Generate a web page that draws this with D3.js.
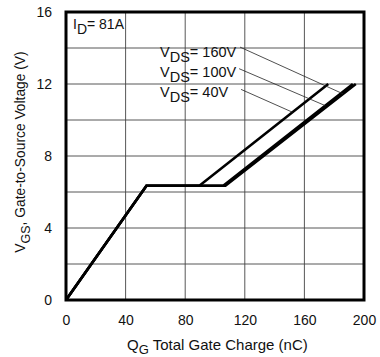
<!DOCTYPE html>
<html>
<head>
<meta charset="utf-8">
<script src="https://cdn.jsdelivr.net/npm/d3@7"></script>
<style>
  html, body { margin: 0; padding: 0; background: #fff; }
  svg { display: block; font-family: "Liberation Sans", Arial, Helvetica, sans-serif; }
</style>
</head>
<body>
<svg id="chart" width="380" height="357"></svg>
<script>
// Gate charge curves (Q_G in nC, V_GS in V) for three drain-source voltages
const seriesNames = ["40V", "100V", "160V"];
const qg40  = [0, 54, 89.5, 176];
const vgs40 = [0, 6.35, 6.35, 12];
const qg100  = [0, 54, 105.5, 192.5];
const vgs100 = [0, 6.35, 6.35, 12];
const qg160  = [0, 54, 107, 194.5];
const vgs160 = [0, 6.35, 6.35, 12];

const xTicks = [0, 40, 80, 120, 160, 200];
const yTicks = [0, 4, 8, 12, 16];
const xGrid = [0, 40, 80, 120, 160, 200];
const yGrid = [0, 2, 4, 6, 8, 10, 12, 14, 16];

// leader lines: label anchor (Q, V) and the charge where the leader meets its curve
const leaderStartQ = [117.5, 116.2, 116.8];
const leaderStartV = [11.7, 12.85, 14.05];
const leaderEndQ = [152, 174, 186];

const svg = d3.select("#chart");
const x = d3.scaleLinear().domain([0, 200]).range([66, 364]);
const y = d3.scaleLinear().domain([0, 16]).range([300, 12]);

// grid
svg.append("g").selectAll("line").data(xGrid).join("line")
  .attr("x1", d => x(d)).attr("x2", d => x(d))
  .attr("y1", y(0)).attr("y2", y(16))
  .attr("stroke", "#444").attr("stroke-width", 0.9);
svg.append("g").selectAll("line").data(yGrid).join("line")
  .attr("y1", d => y(d)).attr("y2", d => y(d))
  .attr("x1", x(0)).attr("x2", x(200))
  .attr("stroke", "#444").attr("stroke-width", 0.9);

// axes (labels only)
const xAxis = svg.append("g").attr("transform", `translate(0,${y(0)})`)
  .call(d3.axisBottom(x).tickValues(xTicks).tickSize(0).tickPadding(15));
const yAxis = svg.append("g").attr("transform", `translate(${x(0)},0)`)
  .call(d3.axisLeft(y).tickValues(yTicks).tickSize(0).tickPadding(14));
[xAxis, yAxis].forEach(g => {
  g.select(".domain").remove();
  g.selectAll("text").attr("font-size", 14).attr("fill", "#111")
    .attr("font-family", "Liberation Sans, Arial, sans-serif");
});

// curves
const series = [
  { q: qg40, v: vgs40, w: 2.6 },
  { q: qg100, v: vgs100, w: 2.6 },
  { q: qg160, v: vgs160, w: 2.6 }
];
const line = d3.line().x(d => x(d[0])).y(d => y(d[1]));
series.forEach(s => {
  svg.append("path")
    .datum(s.q.map((q, i) => [q, s.v[i]]))
    .attr("d", line)
    .attr("fill", "none").attr("stroke", "#000")
    .attr("stroke-width", s.w).attr("stroke-linejoin", "miter");
});

// value on a series at a given charge
function vAt(s, q) {
  for (let i = 1; i < s.q.length; i++) {
    if (q <= s.q[i]) {
      const t = (q - s.q[i - 1]) / (s.q[i] - s.q[i - 1]);
      return s.v[i - 1] + t * (s.v[i] - s.v[i - 1]);
    }
  }
  return s.v[s.v.length - 1];
}

// leader lines
series.forEach((s, i) => {
  svg.append("line")
    .attr("x1", x(leaderStartQ[i])).attr("y1", y(leaderStartV[i]))
    .attr("x2", x(leaderEndQ[i])).attr("y2", y(vAt(s, leaderEndQ[i])))
    .attr("stroke", "#222").attr("stroke-width", 0.8);
});

// frame
svg.append("rect")
  .attr("x", x(0)).attr("y", y(16))
  .attr("width", x(200) - x(0)).attr("height", y(0) - y(16))
  .attr("fill", "none").attr("stroke", "#000").attr("stroke-width", 3);

// V_DS labels
const labelY = [97, 77, 57];
seriesNames.forEach((n, i) => {
  const t = svg.append("text").attr("x", 160).attr("y", labelY[i])
    .attr("font-size", 14.5).attr("fill", "#111");
  t.append("tspan").text("V");
  t.append("tspan").attr("dy", 5).text("DS");
  t.append("tspan").attr("dy", -5).text("= " + n);
});

// I_D annotation
const id = svg.append("text").attr("x", 73).attr("y", 29)
  .attr("font-size", 14).attr("fill", "#111");
id.append("tspan").text("I");
id.append("tspan").attr("dy", 5).text("D");
id.append("tspan").attr("dy", -5).text("= 81A");

// axis titles
const xt = svg.append("text").attr("x", 127).attr("y", 350)
  .attr("font-size", 15).attr("fill", "#111");
xt.append("tspan").text("Q");
xt.append("tspan").attr("dy", 4).attr("font-size", 13).text("G");
xt.append("tspan").attr("dy", -4).text("  Total Gate Charge (nC)");

const yt = svg.append("text")
  .attr("transform", "translate(25,152) rotate(-90)")
  .attr("text-anchor", "middle").attr("font-size", 13.8).attr("fill", "#111");
yt.append("tspan").text("V");
yt.append("tspan").attr("dy", 5).attr("font-size", 12.5).text("GS");
yt.append("tspan").attr("dy", -5).text(", Gate-to-Source Voltage (V)");
</script>
</body>
</html>
